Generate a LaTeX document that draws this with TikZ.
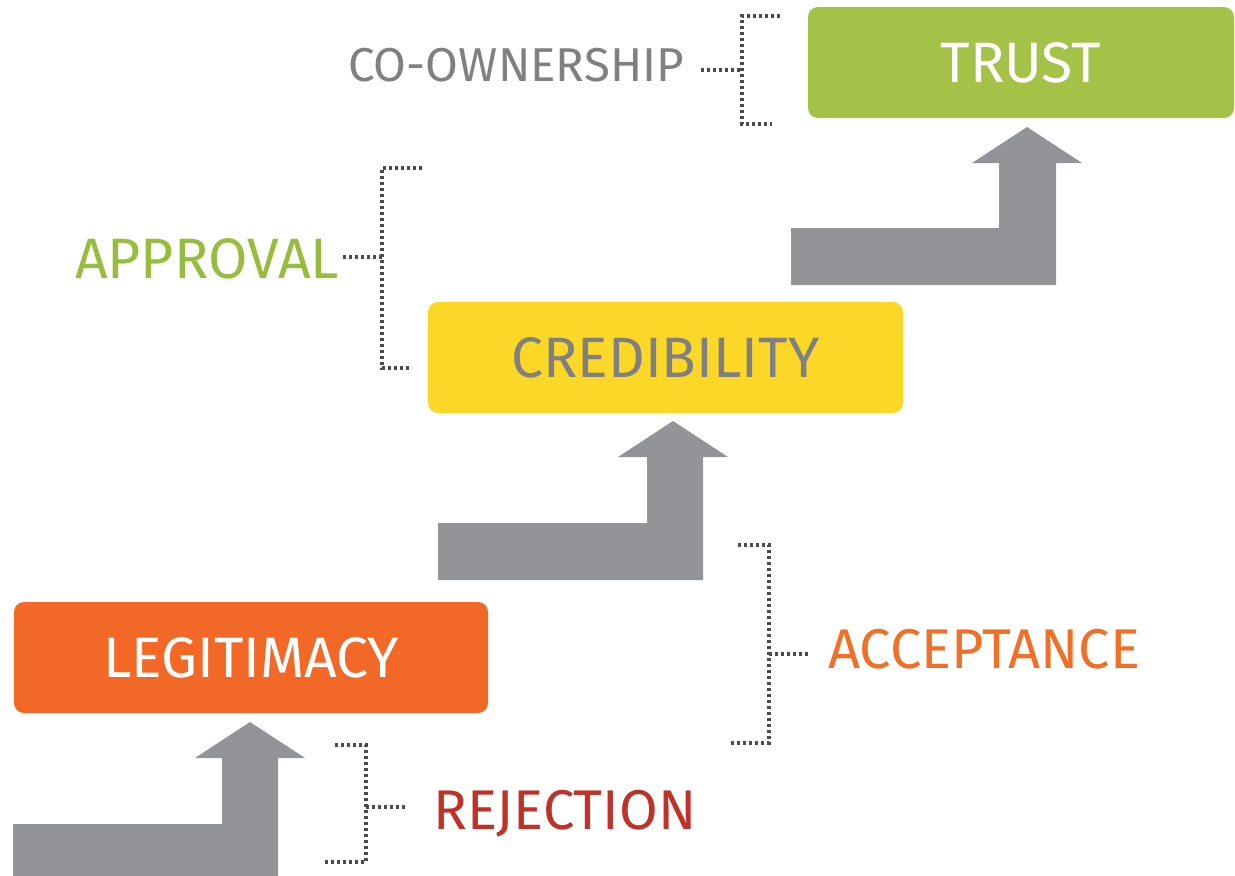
\documentclass[tikz,border=0pt]{standalone}
\usepackage{fontspec}
\setmainfont{Fira Sans}
\usepackage{tikz}
\definecolor{trustgreen}{RGB}{164,193,72}
\definecolor{credyellow}{RGB}{251,215,40}
\definecolor{legitorange}{RGB}{241,104,39}
\definecolor{arrowgray}{RGB}{147,148,152}
\definecolor{dotgray}{RGB}{75,75,78}
\definecolor{labelgray}{RGB}{128,128,130}
\definecolor{approvalgreen}{RGB}{150,190,60}
\definecolor{acceptorange}{RGB}{240,112,40}
\definecolor{rejectred}{RGB}{190,50,40}

\begin{document}
\begin{tikzpicture}[x=1pt,y=1pt,yscale=-1,xscale=1,
  stepbox/.style={rounded corners=10pt, inner sep=0pt, minimum height=111pt, text height=39pt, text depth=0pt, font=\fontsize{57}{62}\selectfont},
  tag/.style={anchor=west, inner sep=0pt, text height=38pt, text depth=0pt, font=\fontsize{56}{60}\selectfont},
  dots/.style={color=dotgray, line width=3.2pt, dash pattern={on 3pt off 3pt}},
  riser/.style={fill=arrowgray, draw=none}]
\useasboundingbox (0,0) rectangle (1235,876);

%Shape: Polygon [riser to trust]
\fill [riser] (791,228) -- (999,228) -- (999,163) -- (972,163) -- (1027,127) -- (1082,163) -- (1056,163) -- (1056,285) -- (791,285) -- cycle ;
%Shape: Polygon [riser to credibility]
\fill [riser] (438,523) -- (647,523) -- (647,457) -- (618,457) -- (673,421) -- (728,457) -- (703,457) -- (703,580) -- (438,580) -- cycle ;
%Shape: Polygon [riser to legitimacy]
\fill [riser] (13,824) -- (222,824) -- (222,758) -- (195,758) -- (250,722) -- (305,758) -- (278,758) -- (278,876) -- (13,876) -- cycle ;

% Text Node
\node (trust) [stepbox, fill=trustgreen, text=white, minimum width=426pt] at (1021,62.5) {TRUST};
% Text Node
\node (cred) [stepbox, fill=credyellow, text=labelgray, minimum width=475pt] at (665.5,357.5) {CREDIBILITY};
% Text Node
\node (legit) [stepbox, fill=legitorange, text=white, minimum width=474pt] at (251,657.5) {LEGITIMACY};

% Text Node
\node (coown) [tag, text=labelgray, text height=32pt, font=\fontsize{47.5}{52}\selectfont] at (348,65) {CO-OWNERSHIP};
% Text Node
\node (approval) [tag, text=approvalgreen, font=\fontsize{57}{62}\selectfont] at (75,259) {APPROVAL};
% Text Node
\node (accept) [tag, text=acceptorange] at (828,649) {ACCEPTANCE};
% Text Node
\node (reject) [tag, text=rejectred] at (433,810) {REJECTION};

%Straight Lines [bracket co-ownership]
\coordinate (cojoin) at (742,70);
\draw [dots] (780,16) -- (742,16) -- (742,124) -- (772,124) ;
\draw [dots] ([xshift=17pt]coown.east |- cojoin) -- (cojoin) ;
%Straight Lines [bracket approval]
\coordinate (apjoin) at (382,257);
\draw [dots] (422,168) -- (382,168) -- (382,368) -- (412,368) ;
\draw [dots] ([xshift=4pt]approval.east |- apjoin) -- (apjoin) ;
%Straight Lines [bracket acceptance]
\coordinate (acjoin) at (769,654);
\draw [dots] (738,545) -- (769,545) -- (769,743) -- (729,743) ;
\draw [dots] (acjoin) -- ([xshift=-18pt]accept.west |- acjoin) ;
%Straight Lines [bracket rejection]
\coordinate (rejoin) at (366,807);
\draw [dots] (335,745) -- (366,745) -- (366,862) -- (324,862) ;
\draw [dots] (rejoin) -- ([xshift=-27pt]reject.west |- rejoin) ;

\end{tikzpicture}
\end{document}
